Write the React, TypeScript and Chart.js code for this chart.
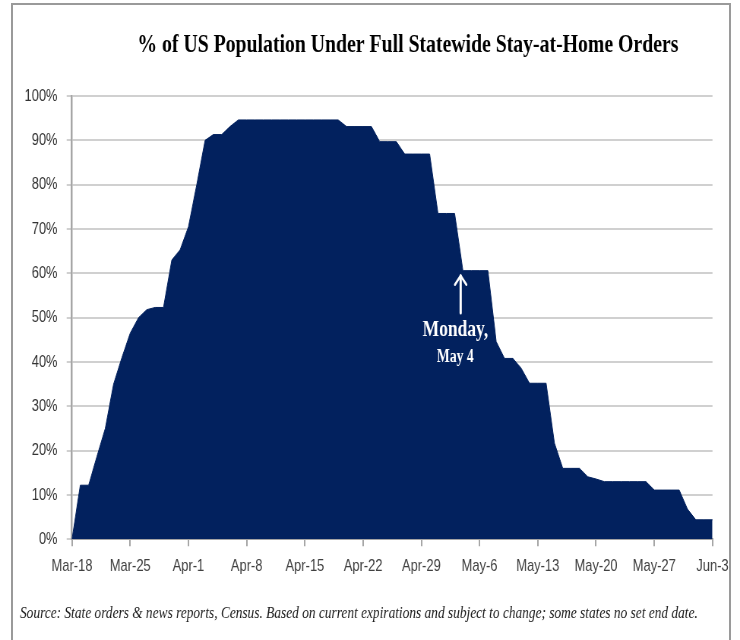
import React, { useEffect, useRef } from 'react';
import { Chart, registerables } from 'chart.js';

Chart.register(...registerables);

// Share of the US population under a full statewide stay-at-home order, one value per day (Mar-18 .. Jun-3)
const sharePct: number[] = [
  0, 12.2, 12.2, 18.7, 25.0, 35.0, 41.0, 46.5, 50.0, 51.8,
  52.3, 52.3, 63.0, 65.3, 70.5, 80.0, 90.0, 91.3, 91.3, 93.1,
  94.6, 94.6, 94.6, 94.6, 94.6, 94.6, 94.6, 94.6, 94.6, 94.6,
  94.6, 94.6, 94.6, 93.1, 93.1, 93.1, 93.1, 89.7, 89.7, 89.7,
  86.9, 86.9, 86.9, 86.9, 73.5, 73.5, 73.5, 60.6, 60.6, 60.6,
  60.6, 44.6, 40.8, 40.8, 38.6, 35.2, 35.2, 35.2, 21.7, 16.0,
  16.0, 16.0, 14.1, 13.6, 13.0, 13.0, 13.0, 13.0, 13.0, 13.0,
  11.1, 11.1, 11.1, 11.1, 6.8, 4.4, 4.4, 4.4,
];

const MONTHS = ['Jan', 'Feb', 'Mar', 'Apr', 'May', 'Jun'];

// Daily category labels, e.g. "Mar-18"
const dayLabels: string[] = sharePct.map((_, i) => {
  const d = new Date(Date.UTC(2020, 2, 18 + i));
  return `${MONTHS[d.getUTCMonth()]}-${d.getUTCDate()}`;
});

// Weekly labels shown on the date axis
const tickLabels: string[] = [
  'Mar-18', 'Mar-25', 'Apr-1', 'Apr-8', 'Apr-15', 'Apr-22',
  'Apr-29', 'May-6', 'May-13', 'May-20', 'May-27', 'Jun-3',
];

const TITLE = '% of US Population Under Full Statewide Stay-at-Home Orders';
const SOURCE_NOTE =
  'Source: State orders & news reports, Census. Based on current expirations and subject to change; some states no set end date.';
const CALLOUT_DAY = 'May-4';
const CALLOUT_LINES = ['Monday,', 'May 4'];

// The chart is laid out on a wider canvas and squeezed horizontally into the 740px frame,
// giving the narrow lettering of the original graphic.
const OUT_W = 740;
const OUT_H = 640;
const SQUEEZE = 0.76;
const CANVAS_W = Math.round(OUT_W / SQUEEZE);
const lx = (x: number) => x / SQUEEZE;

const NAVY = '#02215e';

const overlayPlugin = {
  id: 'overlayText',
  afterDatasetsDraw(chart: any) {
    const { ctx, scales } = chart;
    const idx = dayLabels.indexOf(CALLOUT_DAY);
    const ax = scales.x.getPixelForValue(idx) - 3;
    const tipY = scales.y.getPixelForValue(sharePct[idx]) + 4;
    const baseY = 313;
    ctx.save();
    ctx.strokeStyle = '#ffffff';
    ctx.lineWidth = 3;
    ctx.lineCap = 'round';
    ctx.beginPath();
    ctx.moveTo(ax, tipY + 1);
    ctx.lineTo(ax, baseY);
    ctx.stroke();
    ctx.lineWidth = 2.6;
    ctx.lineJoin = 'miter';
    ctx.beginPath();
    ctx.moveTo(ax - 7.5, tipY + 10);
    ctx.lineTo(ax, tipY + 1);
    ctx.lineTo(ax + 7.5, tipY + 10);
    ctx.stroke();

    ctx.fillStyle = '#ffffff';
    ctx.textAlign = 'center';
    ctx.textBaseline = 'middle';
    ctx.font = 'bold 23px "Liberation Serif"';
    ctx.fillText(CALLOUT_LINES[0], ax - 7, 330);
    ctx.font = 'bold 18px "Liberation Serif"';
    ctx.fillText(CALLOUT_LINES[1], ax - 7, 357);
    ctx.restore();
  },
  afterDraw(chart: any) {
    const { ctx } = chart;
    ctx.save();
    ctx.fillStyle = '#000000';
    ctx.textAlign = 'center';
    ctx.textBaseline = 'middle';
    ctx.font = 'bold 26px "Liberation Serif"';
    ctx.fillText(TITLE, lx(408), 45);

    ctx.fillStyle = '#1a1a1a';
    ctx.textAlign = 'left';
    ctx.font = 'italic 17.6px "Liberation Serif"';
    ctx.fillText(SOURCE_NOTE, lx(20), 613);
    ctx.restore();
  },
};

export default function App() {
  const canvasRef = useRef<HTMLCanvasElement | null>(null);

  useEffect(() => {
    const canvas = canvasRef.current;
    if (!canvas) return;
    const plotLeft = lx(72);
    const plotRight = lx(712.7);
    const plotBottom = 539.3;

    const chart = new Chart(canvas, {
      type: 'line',
      data: {
        labels: dayLabels,
        datasets: [
          {
            data: sharePct,
            fill: 'origin',
            backgroundColor: NAVY,
            borderColor: NAVY,
            borderWidth: 1,
            pointRadius: 0,
            tension: 0,
          },
        ],
      },
      options: {
        responsive: false,
        animation: false,
        devicePixelRatio: 1,
        events: [],
        layout: {
          padding: { top: 96, right: CANVAS_W - plotRight, bottom: 0, left: 0 },
        },
        plugins: {
          legend: { display: false },
          title: { display: false },
          tooltip: { enabled: false },
        },
        scales: {
          x: {
            type: 'category',
            offset: false,
            grid: {
              drawOnChartArea: false,
              drawTicks: true,
              tickLength: 7,
              lineWidth: 2,
              color: (c: any) =>
                tickLabels.includes(dayLabels[c.index]) ? '#a6a6a6' : 'rgba(0,0,0,0)',
            },
            border: { display: true, color: '#a6a6a6', width: 2 },
            ticks: {
              autoSkip: false,
              maxRotation: 0,
              minRotation: 0,
              padding: 10,
              color: '#404040',
              font: { family: 'Liberation Sans', size: 17 },
              callback: (_v: any, i: number) =>
                tickLabels.includes(dayLabels[i]) ? dayLabels[i] : '',
            },
            afterFit: (s: any) => {
              s.height = OUT_H - plotBottom;
            },
          },
          y: {
            min: 0,
            max: 100,
            grid: { color: '#d0d0d0', lineWidth: 2, tickLength: 7 },
            border: { display: true, color: '#a6a6a6', width: 2.5 },
            ticks: {
              stepSize: 10,
              padding: 12,
              color: '#333333',
              font: { family: 'Liberation Sans', size: 17 },
              callback: (v: any) => `${v}%`,
            },
            afterFit: (s: any) => {
              s.width = plotLeft;
            },
          },
        },
      },
      plugins: [overlayPlugin],
    });
    return () => chart.destroy();
  }, []);

  return (
    <div
      style={{
        position: 'absolute',
        left: 0,
        top: 0,
        width: OUT_W,
        height: OUT_H,
        overflow: 'hidden',
        background: '#ffffff',
      }}
    >
      <div
        style={{
          position: 'absolute',
          left: 0,
          top: 0,
          width: CANVAS_W,
          height: OUT_H,
          transform: `scaleX(${OUT_W / CANVAS_W})`,
          transformOrigin: '0 0',
        }}
      >
        <canvas ref={canvasRef} width={CANVAS_W} height={OUT_H} />
      </div>
      <div
        style={{
          position: 'absolute',
          left: 11,
          top: 3,
          width: 720,
          height: 700,
          borderTop: '2px solid #9a9a9a',
          borderLeft: '2px solid #9a9a9a',
          borderRight: '2px solid #9a9a9a',
          boxSizing: 'border-box',
        }}
      />
    </div>
  );
}
